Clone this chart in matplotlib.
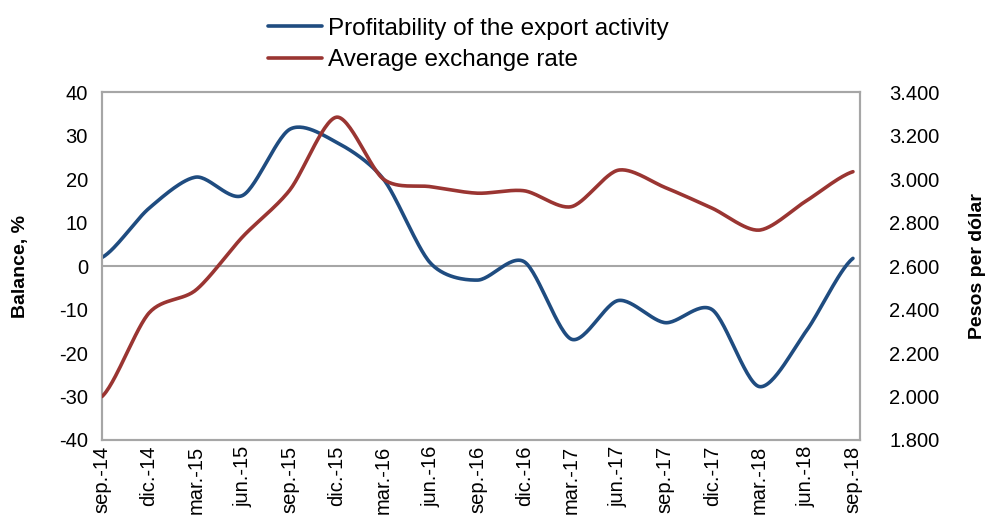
import matplotlib
matplotlib.use("Agg")
import matplotlib.pyplot as plt
import numpy as np
from matplotlib.ticker import FuncFormatter

quarters = ["sep.-14", "dic.-14", "mar.-15", "jun.-15", "sep.-15", "dic.-15",
            "mar.-16", "jun.-16", "sep.-16", "dic.-16", "mar.-17", "jun.-17",
            "sep.-17", "dic.-17", "mar.-18", "jun.-18", "sep.-18"]
profitability = [2, 13.3, 20.5, 16.3, 31.5, 28.5, 20, 0.7, -3.2, 1, -16.8,
                 -7.9, -13, -10, -27.7, -15, 1.8]
exchange_rate = [2000, 2384, 2490, 2736, 2950, 3286, 3000, 2966, 2936, 2947,
                 2874, 3042, 2962, 2867, 2766, 2900, 3035]

BLUE = "#1F4C80"
RED = "#9A3532"
GREY = "#A6A6A6"
FONT = "Liberation Sans"

plt.rcParams["axes.unicode_minus"] = False
plt.rcParams["font.family"] = FONT


def smooth(y, n=30):
    """Catmull-Rom style smoothing of a line through the points (drawing only)."""
    y = np.asarray(y, dtype=float)
    x = np.arange(len(y), dtype=float)
    px = np.concatenate([[2 * x[0] - x[1]], x, [2 * x[-1] - x[-2]]])
    py = np.concatenate([[y[0]], y, [y[-1]]])
    xs, ys = [], []
    for i in range(1, len(px) - 2):
        t = np.linspace(0, 1, n, endpoint=False)
        p0, p1, p2, p3 = (np.array([px[j], py[j]]) for j in range(i - 1, i + 3))
        m1 = (p2 - p0) / 2 * 0.85
        m2 = (p3 - p1) / 2 * 0.85
        h00 = 2 * t**3 - 3 * t**2 + 1
        h10 = t**3 - 2 * t**2 + t
        h01 = -2 * t**3 + 3 * t**2
        h11 = t**3 - t**2
        pts = (np.outer(h00, p1) + np.outer(h10, m1)
               + np.outer(h01, p2) + np.outer(h11, m2))
        xs.append(pts[:, 0])
        ys.append(pts[:, 1])
    xs.append([x[-1]])
    ys.append([y[-1]])
    return np.concatenate(xs), np.concatenate(ys)


fig = plt.figure(figsize=(9.86, 5.28), dpi=100)
ax = fig.add_axes([0.1034, 0.1667, 0.7688, 0.6583])
ax2 = ax.twinx()

x = np.arange(len(quarters))
bx, by = smooth(profitability)
rx, ry = smooth(exchange_rate)

ax.axhline(0, color=GREY, lw=1.5, zorder=1)
lb, = ax.plot(bx, by, color=BLUE, lw=2.6, solid_capstyle="round", zorder=3,
              label="Profitability of the export activity")
lr, = ax2.plot(rx, ry, color=RED, lw=2.6, solid_capstyle="round", zorder=3,
               label="Average exchange rate")

ax.set_xlim(0, 16.15)
ax.set_ylim(-40, 40)
ax.set_yticks(np.arange(-40, 41, 10))
ax2.set_ylim(1800, 3400)
ax2.set_yticks(np.arange(1800, 3401, 200))
ax2.yaxis.set_major_formatter(
    FuncFormatter(lambda v, p: f"{v:,.0f}".replace(",", ".")))

ax.set_xticks(x)
ax.set_xticklabels(quarters, rotation=90)
for a in (ax, ax2):
    a.tick_params(length=0, labelsize=14.5)
    for s in a.spines.values():
        s.set_color(GREY)
        s.set_linewidth(1.5)
ax.tick_params(axis="y", pad=10)
ax.tick_params(axis="x", pad=4)
ax2.tick_params(axis="y", pad=21)

ax.set_ylabel("Balance, %", fontsize=14, fontweight="bold", labelpad=22)
ax2.set_ylabel("Pesos per dólar", fontsize=14, fontweight="bold",
               labelpad=21)

fig.legend(handles=[lb, lr], loc="upper left", bbox_to_anchor=(0.272, 0.966),
           frameon=False, handlelength=2.2, handletextpad=0.25,
           labelspacing=0.38, borderpad=0, borderaxespad=0,
           prop={"size": 17.5})

fig.savefig("out.png", dpi=100)
